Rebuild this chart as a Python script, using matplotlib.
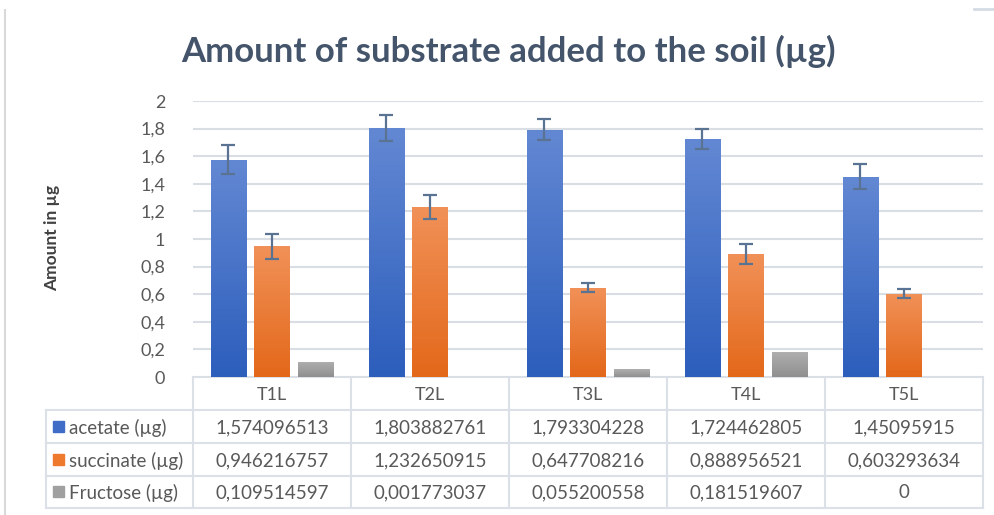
import numpy as np
import matplotlib
matplotlib.use("Agg")
import matplotlib.pyplot as plt
from matplotlib.patches import Rectangle
from matplotlib.lines import Line2D

plt.rcParams['font.family'] = ['Lato', 'DejaVu Sans']

# ----------------------- data -----------------------
categories = ["T1L", "T2L", "T3L", "T4L", "T5L"]
series_names = ["acetate (µg)", "succinate (µg)", "Fructose (µg)"]
acetate = [1.574096513, 1.803882761, 1.793304228, 1.724462805, 1.45095915]
succinate = [0.946216757, 1.232650915, 0.647708216, 0.888956521, 0.603293634]
fructose = [0.109514597, 0.001773037, 0.055200558, 0.181519607, 0]
acetate_err = [0.105, 0.096, 0.075, 0.072, 0.092]
succinate_err = [0.088, 0.089, 0.031, 0.072, 0.033]
yticks = [0, 0.2, 0.4, 0.6, 0.8, 1, 1.2, 1.4, 1.6, 1.8, 2]
ytick_labels = ["0", "0,2", "0,4", "0,6", "0,8", "1", "1,2", "1,4", "1,6", "1,8", "2"]

values = [acetate, succinate, fructose]
errors = [acetate_err, succinate_err, None]
# (top colour, bottom colour) of the gradient fill, plus legend key colour
grads = [("#6388D3", "#2C5EBC"), ("#F19158", "#E3681A"), ("#B0B0B0", "#8F8F8F")]
keys = ["#3E6CC7", "#EE7A2E", "#A0A0A0"]

W, H = 995, 515
TXT = "#595959"
GRID = "#D9DDE4"


def fmt(v):
    s = f"{v:.9f}".rstrip("0").rstrip(".")
    return s.replace(".", ",")


fig = plt.figure(figsize=(W / 100, H / 100), dpi=100)

# plot area in pixels
px_l, px_r, px_top, px_bot = 193, 983, 101, 377
ax = fig.add_axes([px_l / W, 1 - px_bot / H, (px_r - px_l) / W, (px_bot - px_top) / H])

x = np.arange(len(categories))
bw, step = 0.222, 0.278
for i, (vals, err, (ctop, cbot)) in enumerate(zip(values, errors, grads)):
    pos = x + (i - 1) * step
    bars = ax.bar(pos, vals, width=bw, color="none", edgecolor="none", zorder=2)
    c1 = np.array(matplotlib.colors.to_rgb(cbot))
    c2 = np.array(matplotlib.colors.to_rgb(ctop))
    t = np.linspace(0, 1, 128)[:, None]
    grad = (c1 + (c2 - c1) * t)[:, None, :]
    for b in bars:
        if b.get_height() <= 0:
            continue
        im = ax.imshow(grad, origin="lower", aspect="auto", zorder=2,
                       extent=[b.get_x(), b.get_x() + b.get_width(), 0, b.get_height()])
        im.set_clip_path(b)
    if err is not None:
        ax.errorbar(pos, vals, yerr=err, fmt="none", ecolor="#5A7392",
                    elinewidth=1.6, capsize=5, capthick=1.6, zorder=3)

ax.set_xlim(-0.5, len(categories) - 0.5)
ax.set_ylim(0, 2)
ax.set_yticks(yticks)
ax.set_yticklabels(ytick_labels, color=TXT, fontsize=13)
ax.tick_params(axis="y", length=0, pad=20)
ax.set_xticks([])
ax.grid(axis="y", color=GRID, linewidth=1.5, zorder=0)
ax.set_axisbelow(True)
for s in ax.spines.values():
    s.set_visible(False)

# ----------------------- overlay for title, label, table -----------------------
ov = fig.add_axes([0, 0, 1, 1], zorder=-1)
ov.set_xlim(0, W)
ov.set_ylim(H, 0)
ov.axis("off")

ov.text(508, 51, "Amount of substrate added to the soil (µg)", ha="center", va="center",
        fontsize=25, fontweight="bold", color="#44546A")
ov.text(52, 238, "Amount in µg", ha="center", va="center", rotation=90,
        fontsize=12.5, fontweight="bold", color="#404040")

# chart frame remnants
ov.add_line(Line2D([5, 5], [10, H], color="#D9D9D9", lw=1.5))
ov.add_line(Line2D([974, W], [9, 9], color="#D6DCE5", lw=2))

# data table
col_edges = np.linspace(px_l, px_r, len(categories) + 1)
row_edges = [377, 410, 443, 476, 508]
lab_l = 46
lc = "#DCE1E8"
ov.add_line(Line2D([px_l, px_r], [row_edges[0]] * 2, color=lc, lw=1.5))
for y in row_edges[1:]:
    ov.add_line(Line2D([lab_l, px_r], [y, y], color=lc, lw=1.5))
for xe in col_edges:
    ov.add_line(Line2D([xe, xe], [row_edges[0], row_edges[-1]], color=lc, lw=1.5))
ov.add_line(Line2D([lab_l, lab_l], [row_edges[1], row_edges[-1]], color=lc, lw=1.5))

centers = (col_edges[:-1] + col_edges[1:]) / 2
hy = (row_edges[0] + row_edges[1]) / 2
for cx, cat in zip(centers, categories):
    ov.text(cx, hy + 1, cat, ha="center", va="center", fontsize=13, color=TXT)

for r, (name, vals, kc) in enumerate(zip(series_names, values, keys)):
    ry = (row_edges[r + 1] + row_edges[r + 2]) / 2
    ov.add_patch(Rectangle((53, ry - 6), 11, 11, color=kc))
    ov.text(69, ry + 1, name, ha="left", va="center", fontsize=13.5, color=TXT)
    for cx, v in zip(centers, vals):
        ov.text(cx, ry + 1, fmt(v), ha="center", va="center", fontsize=13.5, color=TXT)

fig.savefig("out.png", dpi=100, facecolor="white")
